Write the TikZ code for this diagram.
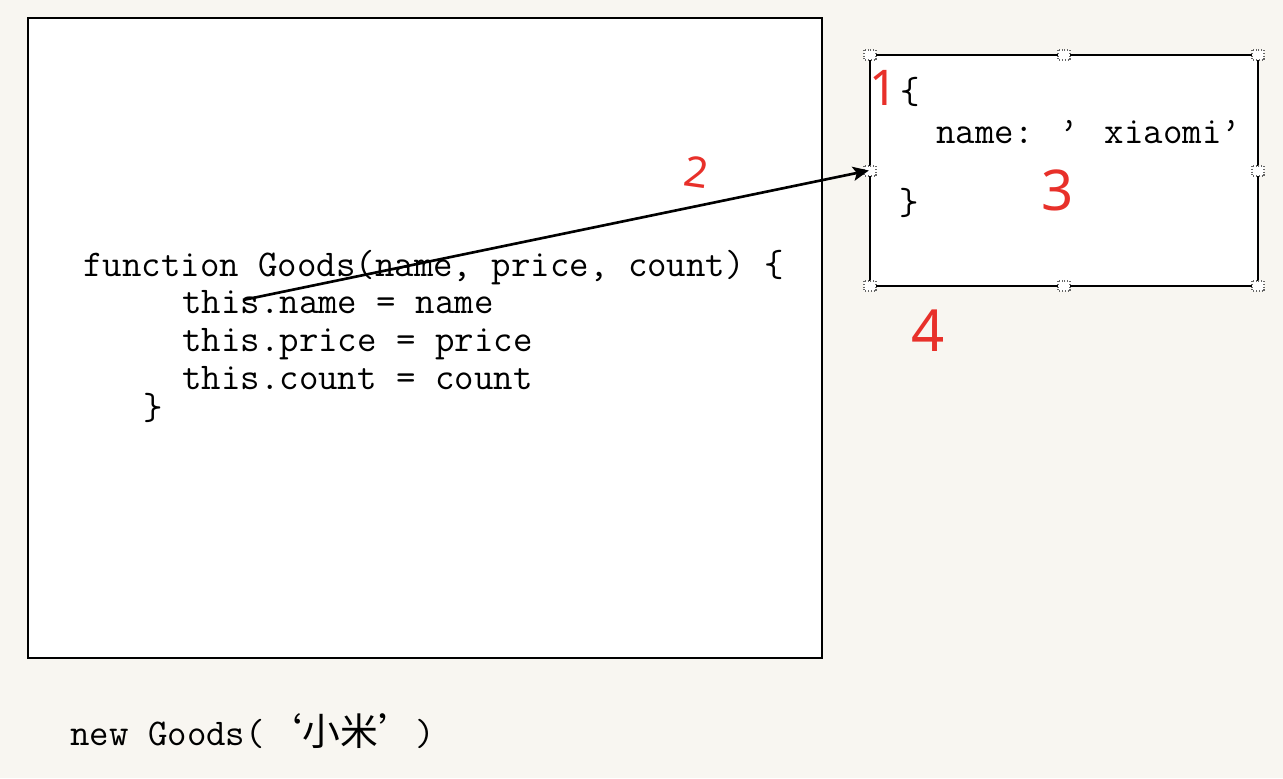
\documentclass[tikz,border=0pt]{standalone}
\usepackage{fontspec}
\newfontfamily\cjk{Noto Sans CJK SC}
\newfontfamily\handfont{Noto Sans}
\usetikzlibrary{arrows.meta}
\definecolor{paper}{HTML}{F8F6F1}
\definecolor{inkred}{HTML}{E8302A}
\tikzset{>={Stealth[length=9pt,width=8pt,inset=2pt]},
  frame/.style={draw=black, fill=white, line width=1.4pt, inner sep=0pt},
  code/.style={anchor=base west, inner sep=0pt,
    font=\ttfamily\fontsize{21.5}{24}\selectfont},
  rednum/.style={text=inkred, inner sep=0pt, font=\handfont},
  handle/.style={draw=black!60, densely dotted, line width=0.6pt, fill=white}}

\begin{document}
\begin{tikzpicture}[x=0.02cm,y=-0.02cm]
        \fill[paper] (0,0) rectangle (1283,778);
        \useasboundingbox (0,0) rectangle (1283,778);

        % constructor
        \node[frame, minimum width=15.88cm, minimum height=12.8cm] (fnbox) at (425,338) {};
        \node[code] (fnhead) at (83,276) {function Goods(name, price, count) \{};
        \node[code] (setname) at (182,313) {this.name = name};
        \node[code] (setprice) at (182,351) {this.price = price};
        \node[code] (setcount) at (182,389) {this.count = count};
        \node[code] (fnend) at (143,419) {\}};

        % new object
        \node[frame, minimum width=7.76cm, minimum height=4.62cm] (objbox) at (1064,170.5) {};
        \foreach \hx/\hy in {870/55,1064/55,1258/55,870/171,1258/171,870/286,1064/286,1258/286}
          \draw[handle] (\hx-6,\hy-5) rectangle (\hx+6,\hy+5);
        \node[code] (objopen) at (900,103) {\{};
        \node[code] (objname) at (936,143) {name: ’ xiaomi’};
        \node[code] (objclose) at (899,214) {\}};

        \coordinate (thisdot) at (243,300);
        \draw[->, line width=1.5pt] (thisdot) -- (objbox.west);

        \node[code] (newcall) at (70,745) {new Goods(\cjk ‘小米’\ttfamily)};

        % steps
        \node[rednum, font=\handfont\fontsize{28}{28}\selectfont] (stepone) at (884,88) {1};
        \node[rednum, font=\handfont\fontsize{24}{24}\selectfont, rotate=-8] (steptwo) at (697,172) {2};
        \node[rednum, font=\handfont\fontsize{32}{32}\selectfont] (stepthree) at (1058,190) {3};
        \node[rednum, font=\handfont\fontsize{33}{33}\selectfont] (stepfour) at (928,331) {4};
      \end{tikzpicture}
\end{document}
